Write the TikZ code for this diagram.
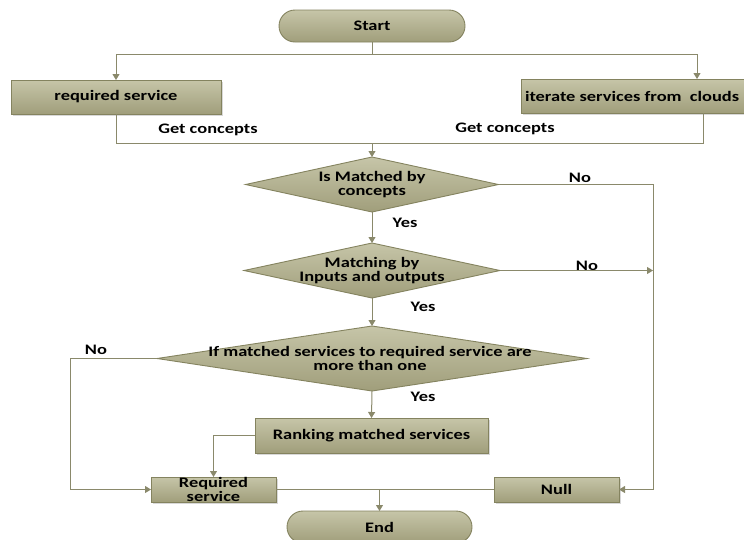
\documentclass[tikz,border=0pt]{standalone}
\usepackage{fontspec}
\setmainfont{Carlito}[FakeStretch=1.27]
\usetikzlibrary{shapes.geometric,arrows.meta,shadows}
\definecolor{lc}{HTML}{8A896B}
\definecolor{bc}{HTML}{84835F}
\definecolor{ft}{HTML}{C6C5A8}
\definecolor{fb}{HTML}{A09E7B}
\begin{document}
\begin{tikzpicture}[x=1pt,y=-1pt,
  every node/.style={font=\bfseries\fontsize{14.5}{14}\selectfont, inner sep=0pt, outer sep=0pt},
  fillsty/.style={draw=bc, line width=0.9pt, top color=ft, bottom color=fb},
  proc/.style={fillsty, rectangle, drop shadow={shadow xshift=1.5pt,shadow yshift=-1.5pt,fill=black!30}},
  term/.style={fillsty, rectangle, rounded corners=16pt, minimum width=186pt, minimum height=32pt},
  dia/.style={fillsty, diamond},
  conn/.style={draw=lc, line width=1pt},
  arr/.style={conn, -{Triangle[width=7pt,length=6pt]}},
  txt/.style={align=center}
]
\useasboundingbox (0,0) rectangle (744,539);
% nodes
\node[term] (start) at (372,26) {Start};
\node[proc, minimum width=210pt, minimum height=34pt] (req) at (116,97) {required service};
\node[proc, minimum width=235pt, minimum height=34pt, anchor=west] (iter) at (521,96) {};
\node[anchor=west] (itertxt) at (525,96) {iterate services from\ \ clouds};
\node[dia, minimum width=253pt, minimum height=55pt] (d1) at (372,184.5) {};
\node[txt] (d1t) at (372,184.5) {Is Matched by\\concepts};
\node[dia, minimum width=256pt, minimum height=55pt] (d2) at (372,270.5) {};
\node[txt] (d2t) at (372,270.5) {Matching by\\Inputs and outputs};
\node[dia, minimum width=430pt, minimum height=65pt] (d3) at (372,358.5) {};
\node[txt] (d3t) at (370,358) {If matched services to required service are\\more than one};
\node[proc, minimum width=233pt, minimum height=35pt] (rank) at (371.5,435.5) {Ranking matched services};
\node[proc, minimum width=125pt, minimum height=25pt, txt] (reqs) at (213.5,489.5) {Required\\service};
\node[proc, minimum width=125pt, minimum height=25pt] (null) at (556.5,489.5) {Null};
\node[term, minimum width=185pt] (end) at (379.5,527) {End};
% labels
\node (gc1) at (208,130) {Get concepts};
\node (gc2) at (505,129) {Get concepts};
\node (no1) at (580,178) {No};
\node (no2) at (587,266) {No};
\node (no3) at (96,350) {No};
\node (yes1) at (405,223) {Yes};
\node (yes2) at (423,307) {Yes};
\node (yes3) at (423,397) {Yes};
% coordinates
\coordinate (j0) at (372,54);
\coordinate (itop) at (697,79);
\coordinate (ibot) at (703,113);
\coordinate (j1) at (372,143);
\coordinate (c1) at (653,184.5);
\coordinate (c3) at (70,358.5);
% connectors
\draw[conn] (start.south) -- (j0);
\draw[arr] (j0) -| (req.north);
\draw[arr] (j0) -| (itop);
\draw[conn] (req.south) |- (j1);
\draw[conn] (ibot) |- (j1);
\draw[arr] (j1) -- (d1.north);
\draw[arr] (d1.south) -- (d2.north);
\draw[arr] (d2.south) -- (d3.north);
\draw[arr] (d1.east) -- (c1) |- (null.east);
\draw[arr] (d2.east) -- (d2.east -| c1);
\draw[arr] (d3.west) -- (c3) |- (reqs.west);
\draw[arr] (d3.south) -- (rank.north);
\draw[arr] (rank.west) -| (reqs.north);
\draw[conn] (reqs.east) -- (null.west);
\draw[arr] (reqs.east -| end.north) -- (end.north);
\end{tikzpicture}
\end{document}
